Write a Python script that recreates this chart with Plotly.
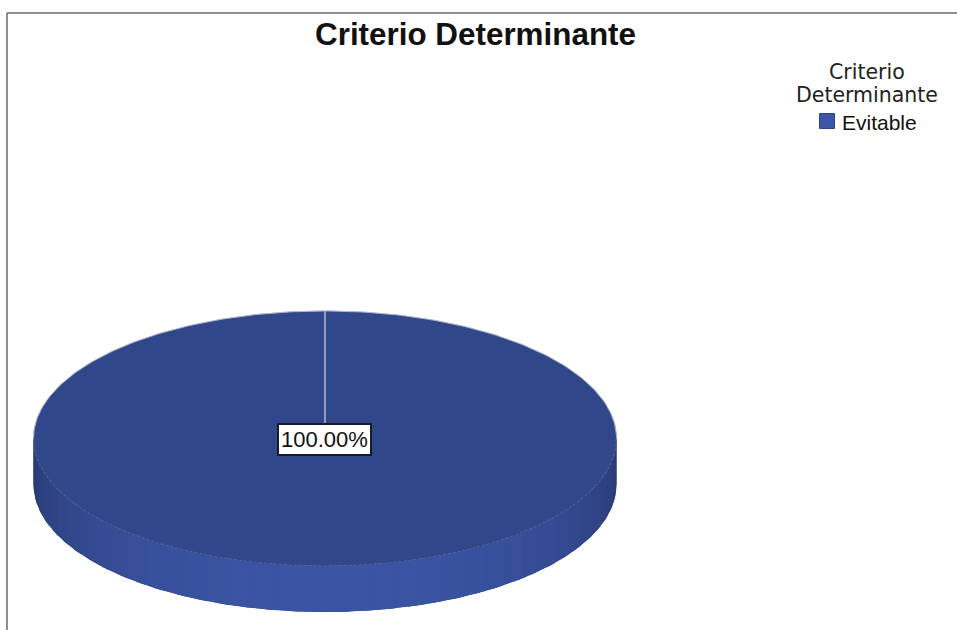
import numpy as np
import plotly.graph_objects as go

# Chart content
chart_title = "Criterio Determinante"
legend_title_lines = ["Criterio", "Determinante"]
categories = ["Evitable"]
shares = [100.0]

# Disc geometry in pixel units of the hidden axes
CX, CY = 325.0, 438.5
RX, RY = 291.5, 127.5
DEPTH = 46.0
START_ANGLE = -np.pi / 2  # first slice starts at twelve o'clock

TOP_COLOR = "#30478a"
LEGEND_COLOR = "#3c55a8"
RIM_DARK = np.array([41, 57, 112])
RIM_LIGHT = np.array([59, 85, 165])
BAND_COUNT = 38
FONT = "Liberation Sans"


def rim_point(t, drop=0.0):
    return CX + RX * np.cos(t), CY + RY * np.sin(t) + drop


def wall_trace(a, b, colour):
    t = np.linspace(a, b, 24)
    xt, yt = rim_point(t)
    xb, yb = rim_point(t[::-1], DEPTH)
    return go.Scatter(
        x=np.r_[xt, xb], y=np.r_[yt, yb], mode="lines",
        fill="toself", fillcolor=colour,
        line=dict(color=colour, width=0),
        showlegend=False, hoverinfo="skip",
    )


fig = go.Figure()

# Side wall: a solid base, then narrow overlapping bands lit most strongly at the front
edges = np.linspace(0, np.pi, BAND_COUNT + 1)
fig.add_trace(wall_trace(0, np.pi, "rgb(50,71,138)"))
for i, (a, b) in enumerate(zip(edges[:-1], edges[1:])):
    mix = np.sin((a + b) / 2) ** 0.9
    r, g, bl = (RIM_DARK + (RIM_LIGHT - RIM_DARK) * mix).astype(int)
    overlap = (b - a) * 0.5 if i < BAND_COUNT - 1 else 0
    fig.add_trace(wall_trace(a, b + overlap, f"rgb({r},{g},{bl})"))

# One top-face wedge per category, swept in proportion to its share
total = sum(shares)
sweep_start = START_ANGLE
for name, share in zip(categories, shares):
    sweep = 2 * np.pi * share / total
    t = np.linspace(sweep_start, sweep_start + sweep, 361)
    x, y = rim_point(t)
    fig.add_trace(go.Scatter(
        x=np.r_[CX, x, CX], y=np.r_[CY, y, CY], mode="lines",
        fill="toself", fillcolor=TOP_COLOR,
        line=dict(color=TOP_COLOR, width=0.5),
        showlegend=False, hoverinfo="skip", name=name,
    ))
    # Pale edge on the far rim
    xr, yr = rim_point(np.linspace(np.pi, 2 * np.pi, 181))
    fig.add_trace(go.Scatter(
        x=xr, y=yr, mode="lines", line=dict(color="#c3c7d4", width=0.8),
        showlegend=False, hoverinfo="skip",
    ))
    # Slice boundary from the centre out to the rim
    xs, ys = rim_point(sweep_start)
    fig.add_trace(go.Scatter(
        x=[CX, xs], y=[CY, ys], mode="lines",
        line=dict(color="#b4b9c9", width=1.5),
        showlegend=False, hoverinfo="skip",
    ))
    sweep_start += sweep

# Faint dashed seam between the top face and the wall
xf, yf = rim_point(np.linspace(0, np.pi, 181))
fig.add_trace(go.Scatter(
    x=xf, y=yf, mode="lines",
    line=dict(color="#5569a3", width=0.8, dash="3px,2px"),
    showlegend=False, hoverinfo="skip",
))

# Key: one swatch and its name per category, under a two-line heading
for i, name in enumerate(categories):
    fig.add_trace(go.Scatter(
        x=[827], y=[121 + 22 * i], mode="markers", name=name,
        marker=dict(symbol="square", size=15, color=LEGEND_COLOR,
                    line=dict(color="#2f4488", width=1)),
        showlegend=False, hoverinfo="skip",
    ))
    fig.add_annotation(
        x=840, y=122 + 22 * i, xref="x", yref="y", xanchor="left",
        text=name, showarrow=False,
        font=dict(family=FONT, size=21, color="#111111"),
    )
for i, line in enumerate(legend_title_lines):
    fig.add_annotation(
        x=867, y=71.5 + 23 * i, xref="x", yref="y", text=line, showarrow=False,
        font=dict(family="DejaVu Sans", size=20.5, color="#222222"),
    )

# Value label at the disc centre
fig.add_annotation(
    x=CX - 0.5, y=CY + 0.5, xref="x", yref="y",
    text=f"{shares[0]:.2f}%", showarrow=False,
    font=dict(family=FONT, size=22, color="#111111"),
    bgcolor="white", bordercolor="#161b2a", borderwidth=2, borderpad=2,
)

fig.update_layout(
    width=957, height=630,
    margin=dict(l=0, r=0, t=0, b=0),
    paper_bgcolor="white", plot_bgcolor="white",
    showlegend=False,
    title=dict(
        text=f"<b>{chart_title}</b>", x=475.5 / 957, xanchor="center",
        y=1 - 34 / 630, yanchor="middle",
        font=dict(family=FONT, size=31.4, color="#111111"),
    ),
    xaxis=dict(range=[0, 957], visible=False, fixedrange=True),
    yaxis=dict(range=[630, 0], visible=False, fixedrange=True),
    shapes=[
        dict(type="line", xref="paper", yref="paper",
             x0=7 / 957, x1=7 / 957, y0=0, y1=1 - 13 / 630,
             line=dict(color="#6b6b6b", width=1.5)),
        dict(type="line", xref="paper", yref="paper",
             x0=7 / 957, x1=1, y0=1 - 13 / 630, y1=1 - 13 / 630,
             line=dict(color="#6b6b6b", width=1.5)),
    ],
)

fig.write_html("out.html", config=dict(displayModeBar=False))
